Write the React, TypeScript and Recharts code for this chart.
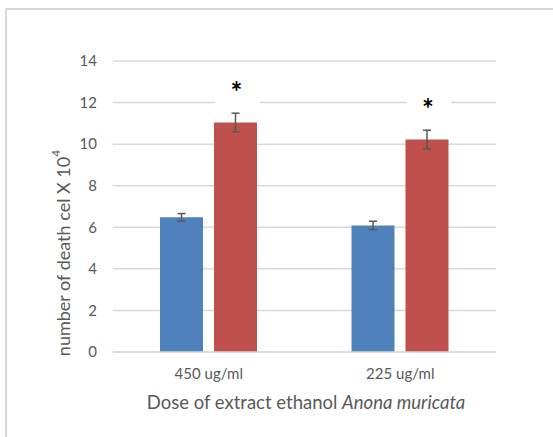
import { BarChart, Bar, XAxis, YAxis, CartesianGrid, ErrorBar, LabelList } from 'recharts';

const doses = ['450 ug/ml', '225 ug/ml'];
const blueValues = [6.48, 6.09];
const blueErrors = [0.18, 0.2];
const redValues = [11.04, 10.22];
const redErrors = [0.45, 0.45];
const marks = ['*', '*'];
const yTicks = [0, 2, 4, 6, 8, 10, 12, 14];

const data = doses.map((dose, i) => ({
  dose,
  blue: blueValues[i],
  blueErr: blueErrors[i],
  red: redValues[i],
  redErr: redErrors[i],
  mark: marks[i],
}));

const FONT = 'Lato, "Open Sans", sans-serif';
const GREY = '#595959';

function StarLabel(props: any) {
  const { x, y, width, value } = props;
  return (
    <g>
      <rect x={x + 1} y={y - 51} width={width + 2} height={33} fill="#fff" />
      <text
        x={x + width / 2 + 1}
        y={y - 21}
        textAnchor="middle"
        fontSize={28}
        fontWeight="bold"
        fill="#000"
        fontFamily={FONT}
      >
        {value}
      </text>
    </g>
  );
}

function YTitle() {
  return (
    <text
      transform="translate(63, 253) rotate(-90)"
      textAnchor="middle"
      dominantBaseline="central"
      fontSize={18}
      fill={GREY}
      fontFamily={FONT}
    >
      number of death cel X 10
      <tspan dy={-8} fontSize={12}>4</tspan>
    </text>
  );
}

export default function App() {
  return (
    <div style={{ position: 'absolute', left: 0, top: 0, width: 553, height: 437, overflow: 'hidden', background: '#fff' }}>
      <div
        style={{
          position: 'absolute',
          left: 5,
          top: 8,
          width: 620,
          height: 500,
          border: '2px solid #d9d9d9',
        }}
      />
      <div style={{ position: 'absolute', left: 0, top: 0 }}>
        <BarChart
          width={553}
          height={437}
          data={data}
          margin={{ top: 61, right: 57, bottom: 55, left: 73 }}
          barCategoryGap={47}
          barGap={11}
        >
          <CartesianGrid vertical={false} stroke="#d9d9d9" strokeWidth={1.5} />
          <XAxis
            dataKey="dose"
            height={30}
            axisLine={{ stroke: '#d9d9d9', strokeWidth: 1.5 }}
            tickLine={false}
            tickSize={0}
            tickMargin={16}
            tick={{ fontSize: 15, fill: GREY, fontFamily: FONT }}
            label={{
              value: 'Dose of extract ethanol',
              position: 'insideBottom',
              content: () => (
                <text x={306} y={409} textAnchor="middle" fontSize={18.5} fill={GREY} fontFamily={FONT}>
                  Dose of extract ethanol <tspan fontStyle="italic">Anona muricata</tspan>
                </text>
              ),
            }}
          />
          <YAxis
            width={40}
            domain={[0, 14]}
            ticks={yTicks}
            axisLine={false}
            tickLine={false}
            tickSize={0}
            tickMargin={16}
            tick={{ fontSize: 15, fill: GREY, fontFamily: FONT }}
            label={{ value: 'number of death cel', content: () => <YTitle /> }}
          />
          <Bar dataKey="blue" fill="#4f81bd" barSize={43} isAnimationActive={false}>
            <ErrorBar dataKey="blueErr" width={4} stroke={GREY} strokeWidth={1.5} />
          </Bar>
          <Bar dataKey="red" fill="#c0504d" barSize={43} isAnimationActive={false}>
            <ErrorBar dataKey="redErr" width={4} stroke={GREY} strokeWidth={1.5} />
            <LabelList dataKey="mark" content={StarLabel} />
          </Bar>
        </BarChart>
      </div>
    </div>
  );
}
